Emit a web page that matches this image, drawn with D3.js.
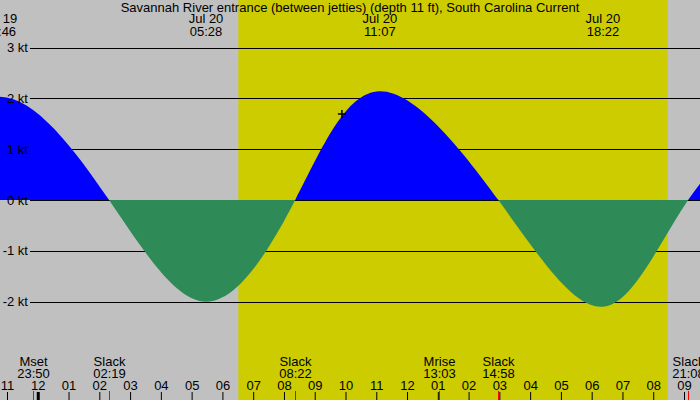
<!DOCTYPE html>
<html>
<head>
<meta charset="utf-8">
<script src="https://cdn.jsdelivr.net/npm/d3@7"></script>
<style>
  body { margin: 0; background: #fff; }
  svg text { font-family: "Liberation Sans", Arial, sans-serif; font-size: 13px; fill: #000; }
</style>
</head>
<body>
<div id="target"></div>
<script>
// station
const title = "Savannah River entrance (between jetties) (depth 11 ft), South Carolina Current"

// current curve: slack / max flood / max ebb times and speeds (kt)
const curveTimes = ["2023-07-19 19:35", "2023-07-19 22:46", "2023-07-20 02:19", "2023-07-20 05:28", "2023-07-20 08:22",
    "2023-07-20 11:07", "2023-07-20 14:58", "2023-07-20 18:22", "2023-07-20 21:08", "2023-07-21 00:25"]
const curveValues = [0, 2.03, 0, -2.0, 0, 2.14, 0, -2.1, 0, 2.0]

// labels at the top (max flood / ebb)
const peakTimes = ["2023-07-19 22:46", "2023-07-20 05:28", "2023-07-20 11:07", "2023-07-20 18:22"]
const peakDates = ["Jul 19", "Jul 20", "Jul 20", "Jul 20"]
const peakLabels = ["22:46", "05:28", "11:07", "18:22"]

// labels at the bottom (slack, moon)
const eventTimes = ["2023-07-19 23:50", "2023-07-20 02:19", "2023-07-20 08:22", "2023-07-20 13:03", "2023-07-20 14:58", "2023-07-20 21:08"]
const eventNames = ["Mset", "Slack", "Slack", "Mrise", "Slack", "Slack"]
const eventLabels = ["23:50", "02:19", "08:22", "13:03", "14:58", "21:08"]

// daylight
const sunrise = "2023-07-20 06:31"
const sunset = "2023-07-20 20:28"

// marker
const markTime = ["2023-07-20 09:53"]
const markValue = [1.69]

const yTicks = [3, 2, 1, 0, -1, -2]

let parse = d3.utcParse("%Y-%m-%d %H:%M")

let chart = () => {
    let ob = {}
    ob.width = 700
    ob.height = 400

    ob.make = () => {
        ob.svg = d3.select("#target").append("svg")
            .attr("width", ob.width)
            .attr("height", ob.height)

        ob.x = d3.scaleUtc()
            .domain([parse("2023-07-19 23:00"), parse("2023-07-20 21:00")])
            .range([7, 684])
        ob.y = d3.scaleLinear().domain([0, 3]).range([200, 47.5])

        let x = ob.x, y = ob.y

        // background + daylight
        ob.svg.append("rect").attr("width", ob.width).attr("height", ob.height).attr("fill", "#c0c0c0")
        ob.svg.append("rect")
            .attr("x", x(parse(sunrise)))
            .attr("width", x(parse(sunset)) - x(parse(sunrise)))
            .attr("height", ob.height)
            .attr("fill", "#cccc00")

        // grid
        ob.svg.append("g").selectAll("line").data(yTicks).enter().append("line")
            .attr("x1", 30).attr("x2", ob.width)
            .attr("y1", d => Math.round(y(d)) + 0.5).attr("y2", d => Math.round(y(d)) + 0.5)
            .attr("stroke", "#000")

        // current area, blue for flood, green for ebb
        let pts = curveTimes.map((t, i) => ({ t: parse(t), v: curveValues[i] }))
        let area = d3.area()
            .x(d => x(d.t))
            .y0(y(0))
            .y1(d => y(d.v))
            .curve(d3.curveNatural)

        let defs = ob.svg.append("defs")
        defs.append("clipPath").attr("id", "pos").append("rect")
            .attr("width", ob.width).attr("height", y(0))
        defs.append("clipPath").attr("id", "neg").append("rect")
            .attr("y", y(0)).attr("width", ob.width).attr("height", ob.height - y(0))

        ob.svg.append("path").datum(pts).attr("d", area).attr("fill", "#0000ff").attr("clip-path", "url(#pos)")
        ob.svg.append("path").datum(pts).attr("d", area).attr("fill", "#2e8b57").attr("clip-path", "url(#neg)")

        // y labels
        ob.svg.append("g").selectAll("text").data(yTicks).enter().append("text")
            .attr("x", 28).attr("y", d => y(d) + 4.5)
            .attr("text-anchor", "end")
            .text(d => d + " kt")

        // marker
        ob.svg.append("g").selectAll("path").data(markTime).enter().append("path")
            .attr("d", (d, i) => {
                let cx = x(parse(d)), cy = y(markValue[i])
                return `M${cx - 4},${cy}H${cx + 4}M${cx},${cy - 4}V${cy + 4}`
            })
            .attr("stroke", "#000").attr("stroke-width", 1.5)

        // title
        ob.svg.append("text").attr("x", 350).attr("y", 12).attr("text-anchor", "middle").text(title)

        // peak labels
        let peaks = ob.svg.append("g").selectAll("g").data(peakTimes).enter().append("g")
            .attr("transform", d => `translate(${x(parse(d))},0)`)
        peaks.append("text").attr("y", 23).attr("text-anchor", "middle").text((d, i) => peakDates[i])
        peaks.append("text").attr("y", 36).attr("text-anchor", "middle").text((d, i) => peakLabels[i])

        // hour axis along the bottom
        let hours = d3.utcHour.range(d3.utcHour.ceil(x.invert(0)), x.invert(ob.width))
        let axis = d3.axisTop(x).tickValues(hours).tickFormat(d3.utcFormat("%I")).tickSize(8).tickPadding(2)
        let ag = ob.svg.append("g").attr("transform", `translate(0,${ob.height})`).call(axis)
        ag.select(".domain").remove()
        ag.selectAll("text").attr("font-size", null).attr("font-family", null)
        ag.selectAll(".tick line").attr("stroke", "#000")
            .filter(d => d.getUTCHours() == 0).attr("stroke-width", 3)

        // event ticks and labels
        let ev = ob.svg.append("g").selectAll("g").data(eventTimes).enter().append("g")
            .attr("transform", d => `translate(${Math.round(x(parse(d))) + 0.5},0)`)
        ev.append("line").attr("y1", 391).attr("y2", 400).attr("stroke", "#ff0000")
        ev.append("text").attr("y", 366).attr("text-anchor", "middle").text((d, i) => eventNames[i])
        ev.append("text").attr("y", 378).attr("text-anchor", "middle").text((d, i) => eventLabels[i])
    }
    return ob
}

let c = chart()
c.make()
</script>
</body>
</html>
